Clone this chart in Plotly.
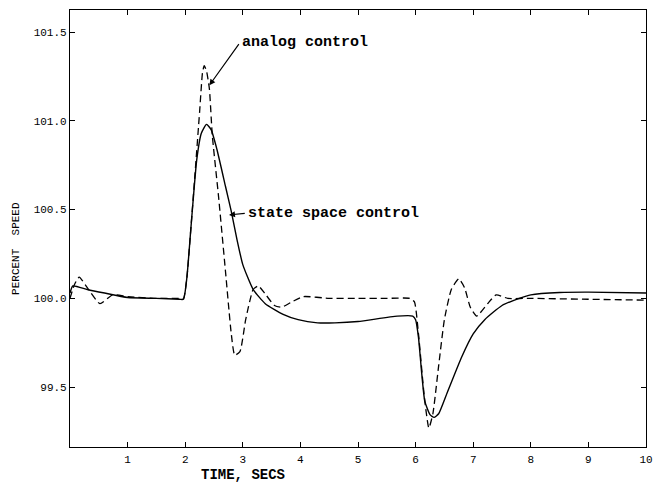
import plotly.graph_objects as go

# --- data ---
state_t = [0.0, 0.05, 0.3, 0.6, 1.0, 1.5, 1.9, 1.97, 2.03, 2.1, 2.2, 2.28, 2.37, 2.45, 2.55, 2.7,
           2.8, 2.9, 3.0, 3.18, 3.39, 3.7, 3.96, 4.3, 4.6, 5.0, 5.68, 5.95, 6.0, 6.05, 6.1, 6.16,
           6.25, 6.32, 6.4, 6.55, 6.8, 7.0, 7.2, 7.5, 7.8, 8.0, 8.5, 9.0, 10.0]
state_y = [100.03, 100.07, 100.05, 100.03, 100.005, 100.0, 99.995, 99.995, 100.12, 100.4, 100.78,
           100.93, 100.98, 100.95, 100.84, 100.63, 100.49, 100.33, 100.19, 100.05, 99.97, 99.91,
           99.88, 99.862, 99.862, 99.87, 99.9, 99.9, 99.88, 99.78, 99.6, 99.42, 99.345, 99.33,
           99.35, 99.47, 99.67, 99.8, 99.88, 99.96, 100.0, 100.02, 100.033, 100.035, 100.03]

analog_t = [0.0, 0.08, 0.16, 0.3, 0.52, 0.74, 1.0, 1.5, 1.9, 1.97, 2.03, 2.1, 2.17, 2.25, 2.3,
            2.33, 2.37, 2.42, 2.47, 2.58, 2.7, 2.8, 2.86, 2.95, 3.05, 3.18, 3.27, 3.4, 3.55,
            3.67, 3.85, 4.05, 4.5, 5.0, 5.5, 5.9, 5.98, 6.05, 6.15, 6.23, 6.3, 6.4, 6.5, 6.62,
            6.75, 6.85, 6.95, 7.06, 7.25, 7.4, 7.6, 8.0, 9.0, 10.0]
analog_y = [100.0, 100.08, 100.12, 100.06, 99.97, 100.02, 100.01, 100.0, 100.0, 100.0, 100.12,
            100.4, 100.7, 101.05, 101.27, 101.31, 101.28, 101.18, 100.92, 100.57, 100.15, 99.8,
            99.68, 99.7, 99.88, 100.05, 100.07, 100.02, 99.96, 99.95, 99.98, 100.01, 100.0,
            100.0, 100.0, 100.0, 99.98, 99.8, 99.45, 99.27, 99.35, 99.62, 99.88, 100.05, 100.11,
            100.06, 99.95, 99.9, 99.97, 100.02, 100.0, 100.0, 99.995, 99.99]

x_ticks = [1, 2, 3, 4, 5, 6, 7, 8, 9, 10]
y_ticks = [99.5, 100.0, 100.5, 101.0, 101.5]
y_ticktext = ["99.5", "100.0", "100.5", "101.0", "101.5"]

FONT = "Liberation Mono, Courier New, monospace"

fig = go.Figure()
fig.add_trace(go.Scatter(x=analog_t, y=analog_y, mode="lines", name="analog control",
                         line=dict(color="black", width=1.3, dash="7px,4px",
                                   shape="spline", smoothing=0.5)))
fig.add_trace(go.Scatter(x=state_t, y=state_y, mode="lines", name="state space control",
                         line=dict(color="black", width=1.4, shape="spline", smoothing=0.5)))

axis_common = dict(showline=True, linecolor="black", linewidth=1.2, mirror="ticks",
                   ticks="inside", ticklen=5, tickcolor="black", showgrid=False,
                   zeroline=False, tickfont=dict(family=FONT, size=11, color="black"))

fig.update_xaxes(range=[0, 10], tickvals=x_ticks, ticklabelstandoff=2, **axis_common)
fig.update_yaxes(range=[99.163, 101.624], tickvals=y_ticks, ticktext=y_ticktext, **axis_common)

annotations = [
    dict(text="<b>TIME, SECS</b>", xref="paper", yref="paper", x=0.301, y=-0.065,
         showarrow=False, xanchor="center", yanchor="middle",
         font=dict(family=FONT, size=14, color="black")),
    dict(text="PERCENT  SPEED", xref="paper", yref="paper", x=-0.095, y=0.454,
         textangle=-90, showarrow=False, xanchor="center", yanchor="middle",
         font=dict(family=FONT, size=11, color="black")),
    dict(text="<b>analog control</b>", x=2.95, y=101.44, xref="x", yref="y",
         showarrow=False, xanchor="left", yanchor="middle",
         font=dict(family=FONT, size=15, color="black")),
    dict(text="", x=2.42, y=101.2, ax=2.95, ay=101.44, xref="x", yref="y",
         axref="x", ayref="y", showarrow=True, arrowhead=2, arrowsize=1,
         arrowwidth=1.2, arrowcolor="black", standoff=0),
    dict(text="<b>state space control</b>", x=3.06, y=100.48, xref="x", yref="y",
         showarrow=False, xanchor="left", yanchor="middle",
         font=dict(family=FONT, size=15, color="black")),
    dict(text="", x=2.76, y=100.47, ax=3.06, ay=100.48, xref="x", yref="y",
         axref="x", ayref="y", showarrow=True, arrowhead=2, arrowsize=1,
         arrowwidth=1.2, arrowcolor="black", standoff=0),
]

fig.update_layout(width=662, height=485, margin=dict(l=70, r=11, t=9, b=38),
                  paper_bgcolor="white", plot_bgcolor="white", showlegend=False,
                  annotations=annotations)

fig.write_html("out.html", config={"displayModeBar": False},
               post_script="document.body.style.margin='0';document.body.style.overflow='hidden';")
